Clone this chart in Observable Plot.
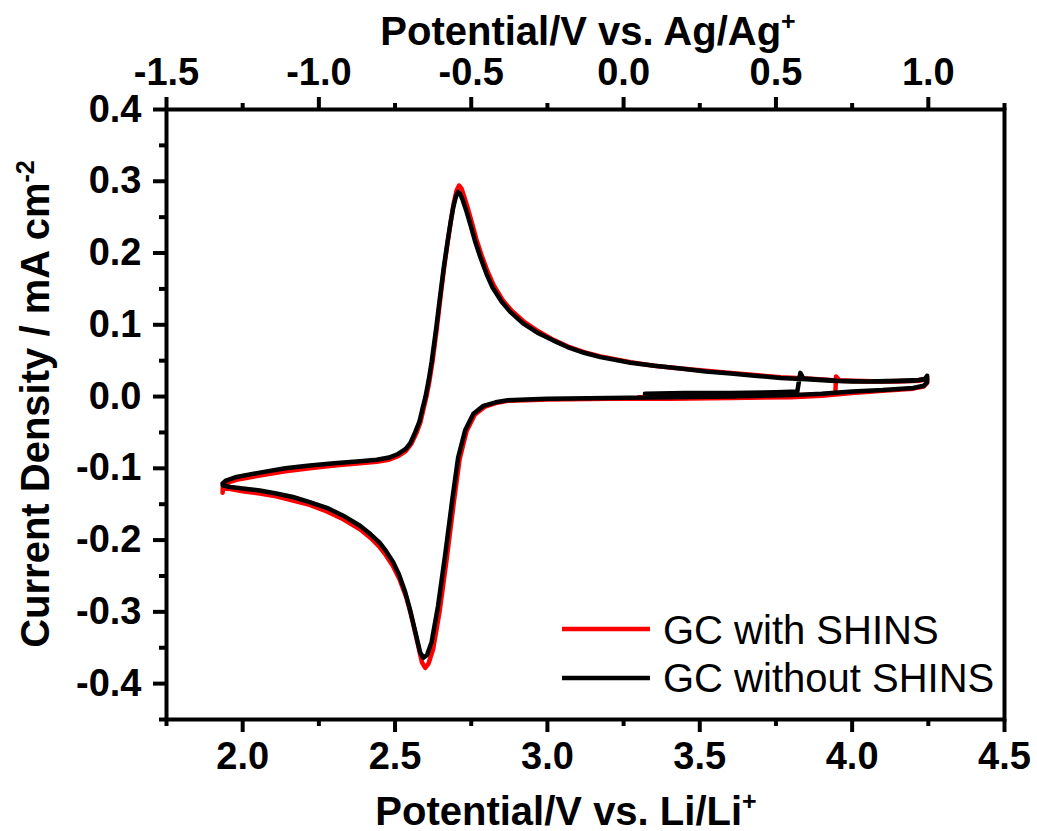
<!DOCTYPE html>
<html>
<head>
<meta charset="utf-8">
<script src="https://cdn.jsdelivr.net/npm/d3@7"></script>
<script src="https://cdn.jsdelivr.net/npm/@observablehq/plot@0.6"></script>
<style>
  html, body { margin: 0; padding: 0; background: white; }
  #chart { width: 1037px; height: 831px; }
</style>
</head>
<body>
<div id="chart"></div>
<script>
// ---- Data ----
// GC without SHINS (black): potential (V vs. Li/Li+) and current density (mA cm^-2)
const blackV = [3.32, 3.45, 3.6, 3.75, 3.82, 3.83, 3.84, 3.95, 4.05, 4.15, 4.22, 4.24, 4.246, 4.246, 4.235, 4.2, 4.1, 4.0, 3.9, 3.8, 3.6, 3.4, 3.2, 3.0, 2.93, 2.87, 2.83, 2.79, 2.757, 2.73, 2.707, 2.688, 2.664, 2.641, 2.62, 2.605, 2.593, 2.582, 2.566, 2.548, 2.533, 2.513, 2.493, 2.47, 2.45, 2.42, 2.385, 2.33, 2.276, 2.22, 2.165, 2.11, 2.056, 2.0, 1.96, 1.935, 1.934, 1.945, 1.98, 2.056, 2.14, 2.22, 2.30, 2.385, 2.44, 2.48, 2.51, 2.535, 2.55, 2.566, 2.58, 2.59, 2.6, 2.61, 2.62, 2.635, 2.648, 2.66, 2.671, 2.682, 2.691, 2.70, 2.707, 2.714, 2.722, 2.733, 2.747, 2.763, 2.78, 2.80, 2.82, 2.85, 2.878, 2.92, 2.967, 3.02, 3.066, 3.12, 3.174, 3.273, 3.35, 3.437, 3.52, 3.602, 3.68, 3.766, 3.85, 3.93, 4.0, 4.1, 4.2, 4.24];
const blackJ = [0.004, 0.005, 0.005, 0.006, 0.007, 0.033, 0.025, 0.022, 0.021, 0.022, 0.023, 0.025, 0.029, 0.020, 0.015, 0.012, 0.009, 0.007, 0.004, 0.002, 0.000, -0.001, -0.002, -0.003, -0.004, -0.005, -0.008, -0.013, -0.024, -0.047, -0.085, -0.143, -0.222, -0.292, -0.342, -0.360, -0.364, -0.356, -0.327, -0.295, -0.272, -0.248, -0.230, -0.215, -0.204, -0.192, -0.180, -0.166, -0.155, -0.147, -0.140, -0.135, -0.131, -0.128, -0.126, -0.124, -0.121, -0.117, -0.112, -0.106, -0.100, -0.096, -0.093, -0.090, -0.088, -0.085, -0.080, -0.073, -0.065, -0.050, -0.035, -0.017, 0.000, 0.022, 0.048, 0.095, 0.140, 0.180, 0.212, 0.242, 0.264, 0.279, 0.285, 0.282, 0.274, 0.260, 0.240, 0.216, 0.194, 0.171, 0.152, 0.132, 0.118, 0.102, 0.089, 0.078, 0.069, 0.061, 0.055, 0.047, 0.043, 0.039, 0.035, 0.032, 0.029, 0.026, 0.024, 0.022, 0.021, 0.021, 0.022, 0.024];

// GC with SHINS (red)
const redV = [3.3, 3.5, 3.7, 3.85, 3.93, 3.945, 3.947, 3.96, 4.05, 4.15, 4.22, 4.24, 4.246, 4.246, 4.235, 4.2, 4.1, 4.0, 3.9, 3.8, 3.6, 3.4, 3.2, 3.0, 2.93, 2.87, 2.83, 2.795, 2.762, 2.735, 2.712, 2.693, 2.669, 2.646, 2.625, 2.61, 2.599, 2.588, 2.572, 2.553, 2.537, 2.515, 2.493, 2.47, 2.45, 2.42, 2.385, 2.33, 2.276, 2.22, 2.165, 2.11, 2.056, 2.0, 1.96, 1.936, 1.934, 1.935, 1.95, 1.98, 2.056, 2.14, 2.22, 2.30, 2.385, 2.44, 2.48, 2.51, 2.535, 2.553, 2.569, 2.583, 2.593, 2.603, 2.613, 2.623, 2.637, 2.65, 2.662, 2.673, 2.684, 2.693, 2.702, 2.71, 2.718, 2.726, 2.737, 2.751, 2.767, 2.784, 2.804, 2.824, 2.854, 2.882, 2.924, 2.97, 3.02, 3.066, 3.12, 3.174, 3.273, 3.35, 3.437, 3.52, 3.602, 3.68, 3.766, 3.85, 3.93, 4.0, 4.1, 4.2, 4.24];
const redJ = [-0.001, 0.000, 0.001, 0.002, 0.003, 0.004, 0.028, 0.022, 0.021, 0.021, 0.022, 0.024, 0.027, 0.019, 0.014, 0.011, 0.008, 0.005, 0.001, -0.001, -0.002, -0.003, -0.003, -0.004, -0.005, -0.006, -0.009, -0.014, -0.025, -0.048, -0.087, -0.147, -0.228, -0.300, -0.352, -0.372, -0.378, -0.370, -0.340, -0.305, -0.280, -0.255, -0.236, -0.221, -0.210, -0.197, -0.185, -0.171, -0.160, -0.151, -0.145, -0.139, -0.135, -0.132, -0.129, -0.128, -0.134, -0.124, -0.120, -0.116, -0.110, -0.104, -0.100, -0.096, -0.093, -0.091, -0.088, -0.083, -0.076, -0.066, -0.052, -0.036, -0.018, 0.000, 0.022, 0.049, 0.095, 0.142, 0.183, 0.216, 0.247, 0.270, 0.287, 0.294, 0.290, 0.280, 0.265, 0.244, 0.219, 0.197, 0.174, 0.155, 0.134, 0.120, 0.104, 0.091, 0.079, 0.070, 0.062, 0.056, 0.048, 0.043, 0.039, 0.036, 0.033, 0.030, 0.027, 0.025, 0.023, 0.022, 0.021, 0.022, 0.024];

// Series names
const seriesNames = ["GC with SHINS", "GC without SHINS"];
const seriesColors = ["#ff0000", "#000000"];

// Axis ticks
const xTicks = [2.0, 2.5, 3.0, 3.5, 4.0, 4.5];
const xMinorTicks = [1.75, 2.25, 2.75, 3.25, 3.75, 4.25];
const refOffset = 3.25; // E(Ag/Ag+) = E(Li/Li+) - 3.25 V
const topTicks = [-1.5, -1.0, -0.5, 0.0, 0.5, 1.0];
const topMinorTicks = [-1.25, -0.75, -0.25, 0.25, 0.75, 1.25];
const yTicks = [0.4, 0.3, 0.2, 0.1, 0.0, -0.1, -0.2, -0.3, -0.4];
const yMinorTicks = [0.35, 0.25, 0.15, 0.05, -0.05, -0.15, -0.25, -0.35, -0.45];

// ---- Build ----
const toRows = (V, J) => V.map((v, i) => ({v, j: J[i]}));
const redRows = toRows(redV, redJ);
const blackRows = toRows(blackV, blackJ);

const fmt1 = d => (Math.abs(d) < 1e-9 ? 0 : d).toFixed(1);

const plot = Plot.plot({
  width: 1037,
  height: 831,
  marginLeft: 166,
  marginRight: 33,
  marginTop: 109,
  marginBottom: 112,
  x: {domain: [1.75, 4.5]},
  y: {domain: [-0.45, 0.4]},
  style: {
    fontFamily: "'Liberation Sans', Arial, sans-serif",
    fontSize: "38px",
    fontWeight: "bold",
    color: "black",
    background: "white",
    overflow: "visible"
  },
  marks: [
    Plot.line(redRows, {x: "v", y: "j", stroke: seriesColors[0], strokeWidth: 4.5, strokeLinejoin: "round"}),
    Plot.line(blackRows, {x: "v", y: "j", stroke: seriesColors[1], strokeWidth: 4.5, strokeLinejoin: "round"}),
    Plot.frame({stroke: "black", strokeWidth: 4}),
    // bottom axis
    Plot.axisX({anchor: "bottom", ticks: xTicks, tickSize: 13, tickPadding: 10, strokeWidth: 4, tickFormat: fmt1, label: null}),
    Plot.axisX({anchor: "bottom", ticks: xMinorTicks, tickSize: 7, strokeWidth: 4, tickFormat: () => "", label: null}),
    // top axis (vs Ag/Ag+)
    Plot.axisX({anchor: "top", ticks: topTicks.map(t => t + refOffset), tickSize: 13, tickPadding: 12, strokeWidth: 4, tickFormat: d => fmt1(d - refOffset), label: null}),
    Plot.axisX({anchor: "top", ticks: topMinorTicks.map(t => t + refOffset), tickSize: 7, strokeWidth: 4, tickFormat: () => "", label: null}),
    // left axis
    Plot.axisY({anchor: "left", ticks: yTicks, tickSize: 13, tickPadding: 12, strokeWidth: 4, tickFormat: fmt1, label: null}),
    Plot.axisY({anchor: "left", ticks: yMinorTicks, tickSize: 7, strokeWidth: 4, tickFormat: () => "", label: null})
  ]
});

const svg = d3.select(plot);
const titleFont = "'Liberation Sans', Arial, sans-serif";

function addTitle(x, y, main, sup, supShift, rotate) {
  const t = svg.append("text")
    .attr("text-anchor", "middle")
    .attr("font-family", titleFont)
    .attr("font-weight", "bold")
    .style("font-size", "40px")
    .attr("fill", "black");
  if (rotate) t.attr("transform", `translate(${x},${y}) rotate(-90)`);
  else t.attr("x", x).attr("y", y);
  t.append("tspan").text(main);
  t.append("tspan").text(sup).style("font-size", "25px").attr("dy", supShift);
  return t;
}
addTitle(566, 825, "Potential/V vs. Li/Li", "+", -15, false);
addTitle(588, 45, "Potential/V vs. Ag/Ag", "+", -15, false);
addTitle(49, 404, "Current Density / mA cm", "-2", -15, true);

// legend
const legendY = [629, 678];
const legendTextY = [644, 692];
seriesNames.forEach((name, i) => {
  svg.append("line")
    .attr("x1", 562).attr("x2", 650)
    .attr("y1", legendY[i]).attr("y2", legendY[i])
    .attr("stroke", seriesColors[i]).attr("stroke-width", 4.5);
  svg.append("text")
    .attr("x", 663).attr("y", legendTextY[i])
    .attr("text-anchor", "start")
    .attr("font-family", titleFont)
    .style("font-weight", "normal")
    .style("font-size", "40px")
    .attr("fill", "black")
    .text(name);
});

document.getElementById("chart").appendChild(plot);
</script>
</body>
</html>
